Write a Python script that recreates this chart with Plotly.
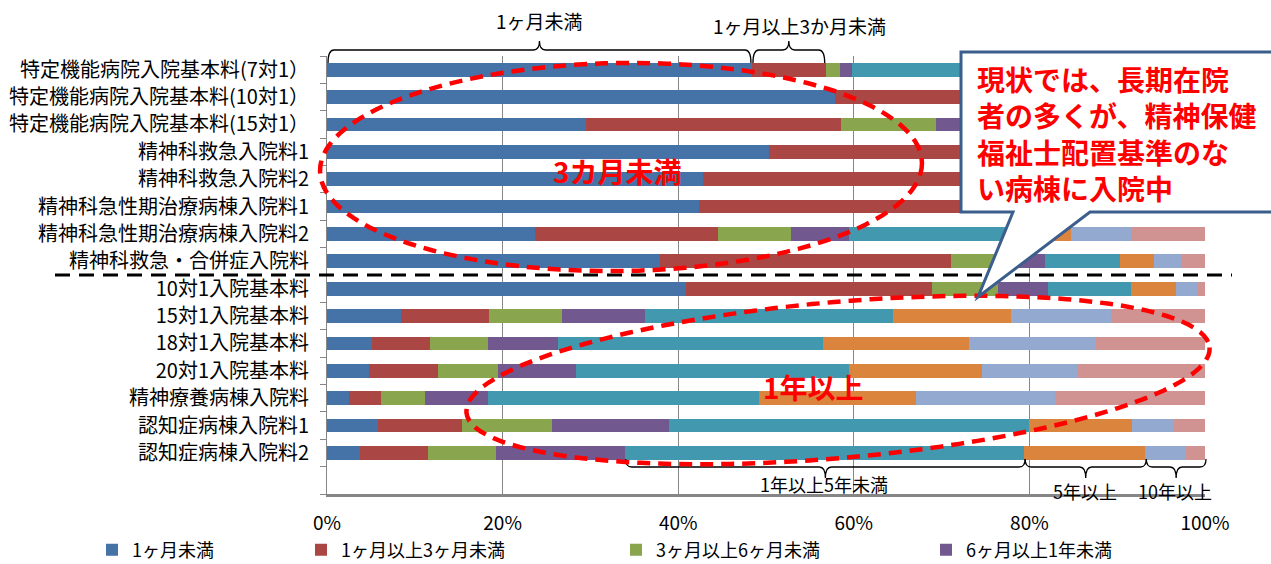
import numpy as np
import plotly.graph_objects as go

# ---- data (percent of inpatients by length of stay) ----
categories = [
    "特定機能病院入院基本料(7対1）",
    "特定機能病院入院基本料(10対1）",
    "特定機能病院入院基本料(15対1）",
    "精神科救急入院料1",
    "精神科救急入院料2",
    "精神科急性期治療病棟入院料1",
    "精神科急性期治療病棟入院料2",
    "精神科救急・合併症入院料",
    "10対1入院基本料",
    "15対1入院基本料",
    "18対1入院基本料",
    "20対1入院基本料",
    "精神療養病棟入院料",
    "認知症病棟入院料1",
    "認知症病棟入院料2",
]

series_names = [
    "1ヶ月未満", "1ヶ月以上3ヶ月未満", "3ヶ月以上6ヶ月未満", "6ヶ月以上1年未満",
    "1年以上5年未満", "5年以上10年未満", "10年以上20年未満", "20年以上",
]

lt_1m  = [48.4, 57.9, 29.5, 50.3, 42.8, 42.4, 23.7, 37.9, 40.9, 8.4, 5.1, 4.8, 2.5, 5.8, 3.8]
m1_3   = [8.4, 29.6, 29.0, 40.1, 44.9, 44.2, 20.8, 33.2, 28.0, 10.1, 6.6, 7.8, 3.7, 9.6, 7.7]
m3_6   = [1.6, 5.4, 10.9, 5.2, 7.1, 8.0, 8.3, 6.7, 7.5, 8.3, 6.6, 6.9, 5.0, 10.2, 7.7]
m6_1y  = [1.4, 3.0, 8.2, 2.1, 2.9, 3.2, 6.7, 4.0, 5.7, 9.4, 8.0, 8.9, 7.1, 13.4, 14.7]
y1_5   = [30.2, 3.1, 15.4, 1.8, 1.9, 1.7, 22.4, 8.5, 9.5, 28.3, 30.2, 31.1, 30.9, 41.0, 45.5]
y5_10  = [5.0, 0.6, 4.1, 0.3, 0.3, 0.3, 2.8, 3.9, 5.1, 13.4, 16.6, 15.1, 17.9, 11.7, 13.8]
y10_20 = [3.0, 0.4, 1.8, 0.2, 0.1, 0.2, 6.9, 3.2, 2.4, 11.4, 14.5, 10.9, 15.8, 4.8, 4.6]
y20p   = [2.0, 0.0, 1.1, 0.0, 0.0, 0.0, 8.4, 2.6, 0.9, 10.7, 12.4, 14.5, 17.1, 3.5, 2.2]

series_values = [lt_1m, m1_3, m3_6, m6_1y, y1_5, y5_10, y10_20, y20p]
colors = ["#4572A7", "#AA4643", "#89A54E", "#71588F",
          "#4198AF", "#DB843D", "#93A9CF", "#D19392"]

x_ticks = [0, 20, 40, 60, 80, 100]
x_tick_labels = ["0%", "20%", "40%", "60%", "80%", "100%"]

# ---- geometry helpers ----
W, H = 1271, 564
ML, MR, MT, MB = 327, 66, 56, 70
PW, PH = W - ML - MR, H - MT - MB
FONT = "Noto Sans CJK JP"


def fx(p):
    """pixel x -> paper x"""
    return (p - ML) / PW


def fy(p):
    """pixel y -> paper y"""
    return (H - MB - p) / PH


def vx(v):
    """percent value -> pixel x"""
    return ML + v / 100 * PW


def path_from(points, close=False):
    s = "M " + " L ".join(f"{fx(x):.5f},{fy(y):.5f}" for x, y in points)
    return s + (" Z" if close else "")


def ellipse_path(cx, cy, a, b, deg, n=120):
    t = np.linspace(0, 2 * np.pi, n, endpoint=False)
    th = np.radians(deg)
    xs = cx + a * np.cos(t) * np.cos(th) - b * np.sin(t) * np.sin(th)
    ys = cy + a * np.cos(t) * np.sin(th) + b * np.sin(t) * np.cos(th)
    return path_from(list(zip(xs, ys)), close=True)


def brace_path(x0, x1, y_end, y_line, y_peak, r=6):
    xm = (x0 + x1) / 2

    def P(x, y):
        return f"{fx(x):.5f},{fy(y):.5f}"
    return (f"M {P(x0, y_end)} Q {P(x0, y_line)} {P(x0 + r, y_line)} "
            f"L {P(xm - r, y_line)} Q {P(xm, y_line)} {P(xm, y_peak)} "
            f"Q {P(xm, y_line)} {P(xm + r, y_line)} "
            f"L {P(x1 - r, y_line)} Q {P(x1, y_line)} {P(x1, y_end)}")


def label(x, y, text, size, color="black", anchor="center"):
    return dict(x=fx(x), y=fy(y), xref="paper", yref="paper", text=text,
                showarrow=False, xanchor=anchor, yanchor="middle", align="left",
                font=dict(family=FONT, size=size, color=color))


fig = go.Figure()
rows = list(range(len(categories)))
legend_ids = ["legend", "legend2", "legend3", "legend4"]
for i, (name, vals, col) in enumerate(zip(series_names, series_values, colors)):
    fig.add_trace(go.Bar(
        y=rows, x=vals, name=name, orientation="h",
        marker=dict(color=col, line=dict(width=0)),
        showlegend=i < 4,
        legend=legend_ids[i] if i < 4 else "legend",
        hoverinfo="x+name",
    ))

shapes = []
annotations = []

# horizontal divider between the two groups of wards
shapes.append(dict(type="line", xref="paper", yref="paper",
                   x0=fx(55), x1=fx(1232), y0=1 - 8 / 16, y1=1 - 8 / 16,
                   line=dict(color="black", width=3, dash="15px,9px"), layer="above"))

# top braces from the first row's cumulative shares
c0 = np.cumsum([s[0] for s in series_values])
top_spans = [(0, c0[0], "1ヶ月未満", 21, 0), (c0[0], c0[1], "1ヶ月以上3か月未満", 26, 11)]
for a, b, text, ty, dx in top_spans:
    shapes.append(dict(type="path", xref="paper", yref="paper",
                       path=brace_path(vx(a) + 1, vx(b) - 1, 63, 50, 41),
                       line=dict(color="black", width=1.3), layer="above"))
    annotations.append(label((vx(a) + vx(b)) / 2 + dx, ty, text, 19))

# bottom braces from the last row's cumulative shares
cl = np.cumsum([s[-1] for s in series_values])
bottom_spans = [(cl[3], cl[4], "1年以上5年未満", 484), (cl[4], cl[5], "5年以上", 491),
                (cl[5], cl[7], "10年以上", 491)]
for a, b, text, ty in bottom_spans:
    shapes.append(dict(type="path", xref="paper", yref="paper",
                       path=brace_path(vx(a) + 1, vx(b) + 1, 459, 467, 478),
                       line=dict(color="black", width=1.3), layer="above"))
    annotations.append(label((vx(a) + vx(b)) / 2, ty, text, 18))

# red dashed ellipses
shapes.append(dict(type="path", xref="paper", yref="paper",
                   path=ellipse_path(621, 167, 301, 104, -0.8),
                   line=dict(color="#FF0000", width=4.5, dash="13px,8px"), layer="above"))
shapes.append(dict(type="path", xref="paper", yref="paper",
                   path=ellipse_path(838, 380, 373, 78, -5),
                   line=dict(color="#FF0000", width=4.5, dash="13px,8px"), layer="above"))

annotations.append(label(617, 171, "<b>3カ月未満</b>", 28, "#FF0000"))
annotations.append(label(813, 387, "<b>1年以上</b>", 28, "#FF0000"))

# callout box with pointer
callout = [(961, 52), (1285, 52), (1285, 212), (1090, 212), (978, 297), (1013, 212), (961, 212)]
shapes.append(dict(type="path", xref="paper", yref="paper", path=path_from(callout, close=True),
                   fillcolor="white", line=dict(color="#3B5E8C", width=3), layer="above"))
annotations.append(label(975, 133,
                         "<b>現状では、長期在院<br>者の多くが、精神保健<br>福祉士配置基準のな<br>い病棟に入院中</b>",
                         28, "#FF0000", anchor="left"))

legend_marker_px = [113, 322, 637, 947]
legend_common = dict(orientation="h", yanchor="middle", y=fy(550), xanchor="left",
                     bgcolor="rgba(0,0,0,0)", font=dict(family=FONT, size=18, color="black"))
layout_legends = {}
for lid, mx in zip(legend_ids, legend_marker_px):
    layout_legends[lid] = dict(x=fx(mx - 21), **legend_common)

fig.update_layout(
    width=W, height=H,
    margin=dict(l=ML, r=MR, t=MT, b=MB, autoexpand=False),
    barmode="stack", bargap=0.5,
    paper_bgcolor="white", plot_bgcolor="white",
    font=dict(family=FONT, color="black"),
    xaxis=dict(range=[0, 100], tickvals=x_ticks, ticktext=x_tick_labels,
               showgrid=True, gridcolor="#868686", gridwidth=1, zeroline=False,
               showline=True, linecolor="#868686", linewidth=3,
               ticks="", ticklabelstandoff=10,
               tickfont=dict(family=FONT, size=19, color="black"), fixedrange=True),
    yaxis=dict(range=[15.5, -0.5], tickvals=rows, ticktext=categories,
               showgrid=False, zeroline=False,
               showline=True, linecolor="#868686", linewidth=1,
               ticks="", ticklabelstandoff=13,
               minor=dict(tickvals=[i - 0.5 for i in range(17)], ticks="outside",
                          ticklen=6, tickcolor="#868686", showgrid=False),
               tickfont=dict(family=FONT, size=20, color="black"), fixedrange=True),
    shapes=shapes,
    annotations=annotations,
    **layout_legends,
)

fig.write_html("out.html")
